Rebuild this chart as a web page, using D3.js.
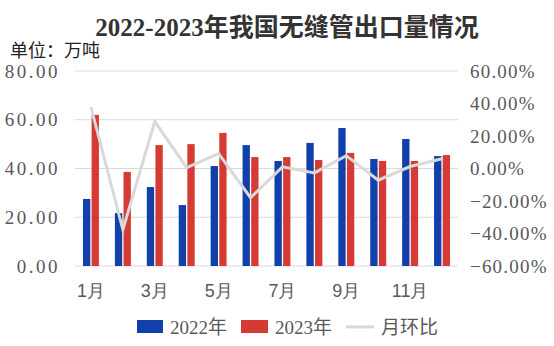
<!DOCTYPE html>
<html><head><meta charset="utf-8">
<script src="https://cdn.jsdelivr.net/npm/d3@7"></script>
<style>
body{margin:0;background:#fff;}
svg{display:block;font-family:"Liberation Serif","Noto Sans CJK SC",serif;}
</style></head>
<body><svg id="c" width="554" height="346"></svg>
<script>
const months = ["1月","2月","3月","4月","5月","6月","7月","8月","9月","10月","11月","12月"];
const series2022 = [27.5,21.7,32.4,25.0,41.0,49.6,43.1,50.5,56.6,43.9,52.1,45.1];
const series2023 = [62.0,38.6,49.6,50.0,54.6,44.7,44.7,43.5,46.4,43.1,43.1,45.5];
const momChange = [0.377,-0.377,0.289,0.006,0.092,-0.180,0.010,-0.027,0.079,-0.072,0.012,0.060];
const leftTicks = [0,20,40,60,80];
const rightTicks = [-0.6,-0.4,-0.2,0,0.2,0.4,0.6];
const xLabels = ["1月","3月","5月","7月","9月","11月"];
const seriesNames = ["2022年","2023年","月环比"];
const colors = {"2022年":"#1240AB","2023年":"#D63A34","月环比":"#D9D9D9"};

const svg = d3.select("#c");
const L=75,R=458,T=71,B=266;
const x0 = d3.scaleBand().domain(months).range([L,R]).paddingInner(0.5).paddingOuter(0.25);
const x1 = d3.scaleBand().domain(["2022年","2023年"]).range([0,x0.bandwidth()]).paddingInner(0.15);
const y = d3.scaleLinear().domain([0,80]).range([B,T]);
const y2 = d3.scaleLinear().domain([-0.6,0.6]).range([B,T]);

// title
svg.append("text").attr("x",287).attr("y",36).attr("text-anchor","middle")
  .attr("font-size",25).attr("font-weight","bold").attr("fill","#333")
  .text("2022-2023年我国无缝管出口量情况");
svg.append("text").attr("x",10).attr("y",57).attr("font-size",18).attr("fill","#222").text("单位：万吨");

// grid
svg.append("g").selectAll("line").data(leftTicks).join("line")
  .attr("x1",L).attr("x2",R).attr("y1",d=>y(d)).attr("y2",d=>y(d))
  .attr("stroke","#D9D9D9").attr("stroke-width",1);

// axes
const ya = svg.append("g").attr("transform",`translate(${L-15},0)`)
  .call(d3.axisLeft(y).tickValues(leftTicks).tickSize(0).tickFormat(d3.format(".2f")));
ya.select(".domain").remove();
ya.selectAll("text").attr("font-size",19).attr("fill","#595959").attr("letter-spacing","2.5px")
  .attr("font-family","Liberation Serif").attr("x",0);

const ya2 = svg.append("g").attr("transform",`translate(${R+12},0)`)
  .call(d3.axisRight(y2).tickValues(rightTicks).tickSize(0).tickFormat(d3.format(".2%")));
ya2.select(".domain").remove();
ya2.selectAll("text").attr("font-size",19).attr("fill","#595959").attr("letter-spacing","1.2px")
  .attr("font-family","Liberation Serif").attr("x",0);

const xa = svg.append("g").attr("transform",`translate(0,${B+12})`)
  .call(d3.axisBottom(x0).tickValues(xLabels).tickSize(0));
xa.select(".domain").remove();
xa.selectAll("text").attr("font-size",18).attr("fill","#595959").attr("dy","0.9em");

// bars
const g = svg.append("g");
months.forEach((m,i)=>{
  [["2022年",series2022[i]],["2023年",series2023[i]]].forEach(([k,v])=>{
    g.append("rect").attr("x",x0(m)+x1(k)).attr("width",x1.bandwidth())
      .attr("y",y(v)).attr("height",y(0)-y(v)).attr("fill",colors[k]);
  });
});

// line
const line = d3.line().x((d,i)=>x0(months[i])+x0.bandwidth()/2).y(d=>y2(d));
svg.append("path").datum(momChange).attr("d",line).attr("fill","none")
  .attr("stroke",colors["月环比"]).attr("stroke-width",3).attr("stroke-linejoin","miter");

// legend
const lg = svg.append("g");
const ly = 327;
lg.append("rect").attr("x",137).attr("y",ly-7).attr("width",26).attr("height",13).attr("fill",colors["2022年"]);
lg.append("text").attr("x",170).attr("y",ly+7).attr("font-size",19).attr("fill","#595959").text(seriesNames[0]);
lg.append("rect").attr("x",241).attr("y",ly-7).attr("width",27).attr("height",13).attr("fill",colors["2023年"]);
lg.append("text").attr("x",275).attr("y",ly+7).attr("font-size",19).attr("fill","#595959").text(seriesNames[1]);
lg.append("line").attr("x1",346).attr("x2",374).attr("y1",ly).attr("y2",ly).attr("stroke",colors["月环比"]).attr("stroke-width",3);
lg.append("text").attr("x",381).attr("y",ly+7).attr("font-size",19).attr("fill","#595959").text(seriesNames[2]);
</script></body></html>
